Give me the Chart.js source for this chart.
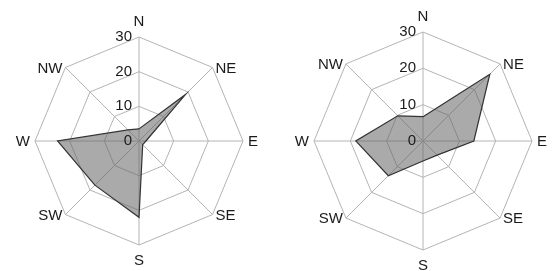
<!DOCTYPE html>
<html>
<head>
<meta charset="utf-8">
<script src="https://cdn.jsdelivr.net/npm/chart.js@4/dist/chart.umd.min.js"></script>
<style>
  html, body { margin: 0; padding: 0; background: #fff; }
  #wrap { position: relative; width: 552px; height: 271px; }
  canvas { position: absolute; top: 0; }
  #left { left: 0; }
  #right { left: 276px; }
</style>
</head>
<body>
<div id="wrap">
  <canvas id="left" width="276" height="271"></canvas>
  <canvas id="right" width="276" height="271"></canvas>
</div>
<script>
// wind directions, clockwise from north
const directions = ['N', 'NE', 'E', 'SE', 'S', 'SW', 'W', 'NW'];
// frequency per direction
const leftValues = [3.5, 19, 2, 1.5, 22, 18, 23.5, 4.5];
const rightValues = [6.7, 26, 14, 5.5, 5.5, 13.5, 18.5, 9.8];
// radial axis
const scaleMin = 0;
const scaleMax = 30;
const scaleStep = 10;

const textColor = '#1a1a1a';
const gridColor = '#b4b4b4';
const labelFont = '15px "Liberation Sans", Arial, sans-serif';

// tick labels sit left of the north axis, compass labels hug the outer ring
const roseLabels = {
  id: 'roseLabels',
  afterDraw(chart) {
    const scale = chart.scales.r;
    const ctx = chart.ctx;
    ctx.save();
    ctx.fillStyle = textColor;
    ctx.font = labelFont;
    ctx.textBaseline = 'middle';

    ctx.textAlign = 'right';
    scale.ticks.forEach(t => {
      const d = scale.getDistanceFromCenterForValue(t.value);
      ctx.fillText(t.label, scale.xCenter - 7, scale.yCenter - d);
    });

    chart.data.labels.forEach((lab, i) => {
      const p = scale.getPointPosition(i, scale.drawingArea);
      const cx = Math.cos(p.angle);
      const sy = Math.sin(p.angle);
      if (Math.abs(cx) < 0.01) {
        ctx.textAlign = 'center';
        ctx.fillText(lab, p.x, p.y + (sy < 0 ? -15.5 : 16));
      } else {
        ctx.textAlign = cx > 0 ? 'left' : 'right';
        const gap = Math.abs(sy) < 0.01 ? 5 : 3;
        ctx.fillText(lab, p.x + (cx > 0 ? gap : -gap), p.y + 1);
      }
    });
    ctx.restore();
  }
};

function drawRose(id, values, padding) {
  const ctx = document.getElementById(id).getContext('2d');
  return new Chart(ctx, {
    type: 'radar',
    data: {
      labels: directions,
      datasets: [{
        data: values,
        fill: true,
        backgroundColor: 'rgba(100,100,100,0.55)',
        borderColor: '#333333',
        borderWidth: 1.2,
        pointRadius: 0,
        tension: 0
      }]
    },
    options: {
      responsive: false,
      animation: false,
      devicePixelRatio: 1,
      layout: { padding: padding },
      plugins: {
        legend: { display: false },
        tooltip: { enabled: false }
      },
      scales: {
        r: {
          min: scaleMin,
          max: scaleMax,
          ticks: { stepSize: scaleStep, display: false },
          pointLabels: { display: false },
          grid: { color: gridColor, lineWidth: 1 },
          angleLines: { color: gridColor, lineWidth: 1 }
        }
      }
    },
    plugins: [roseLabels]
  });
}

drawRose('left', leftValues, { left: 35, right: 33, top: 37, bottom: 26 });
drawRose('right', rightValues, { left: 38, right: 20, top: 32, bottom: 21 });
</script>
</body>
</html>
